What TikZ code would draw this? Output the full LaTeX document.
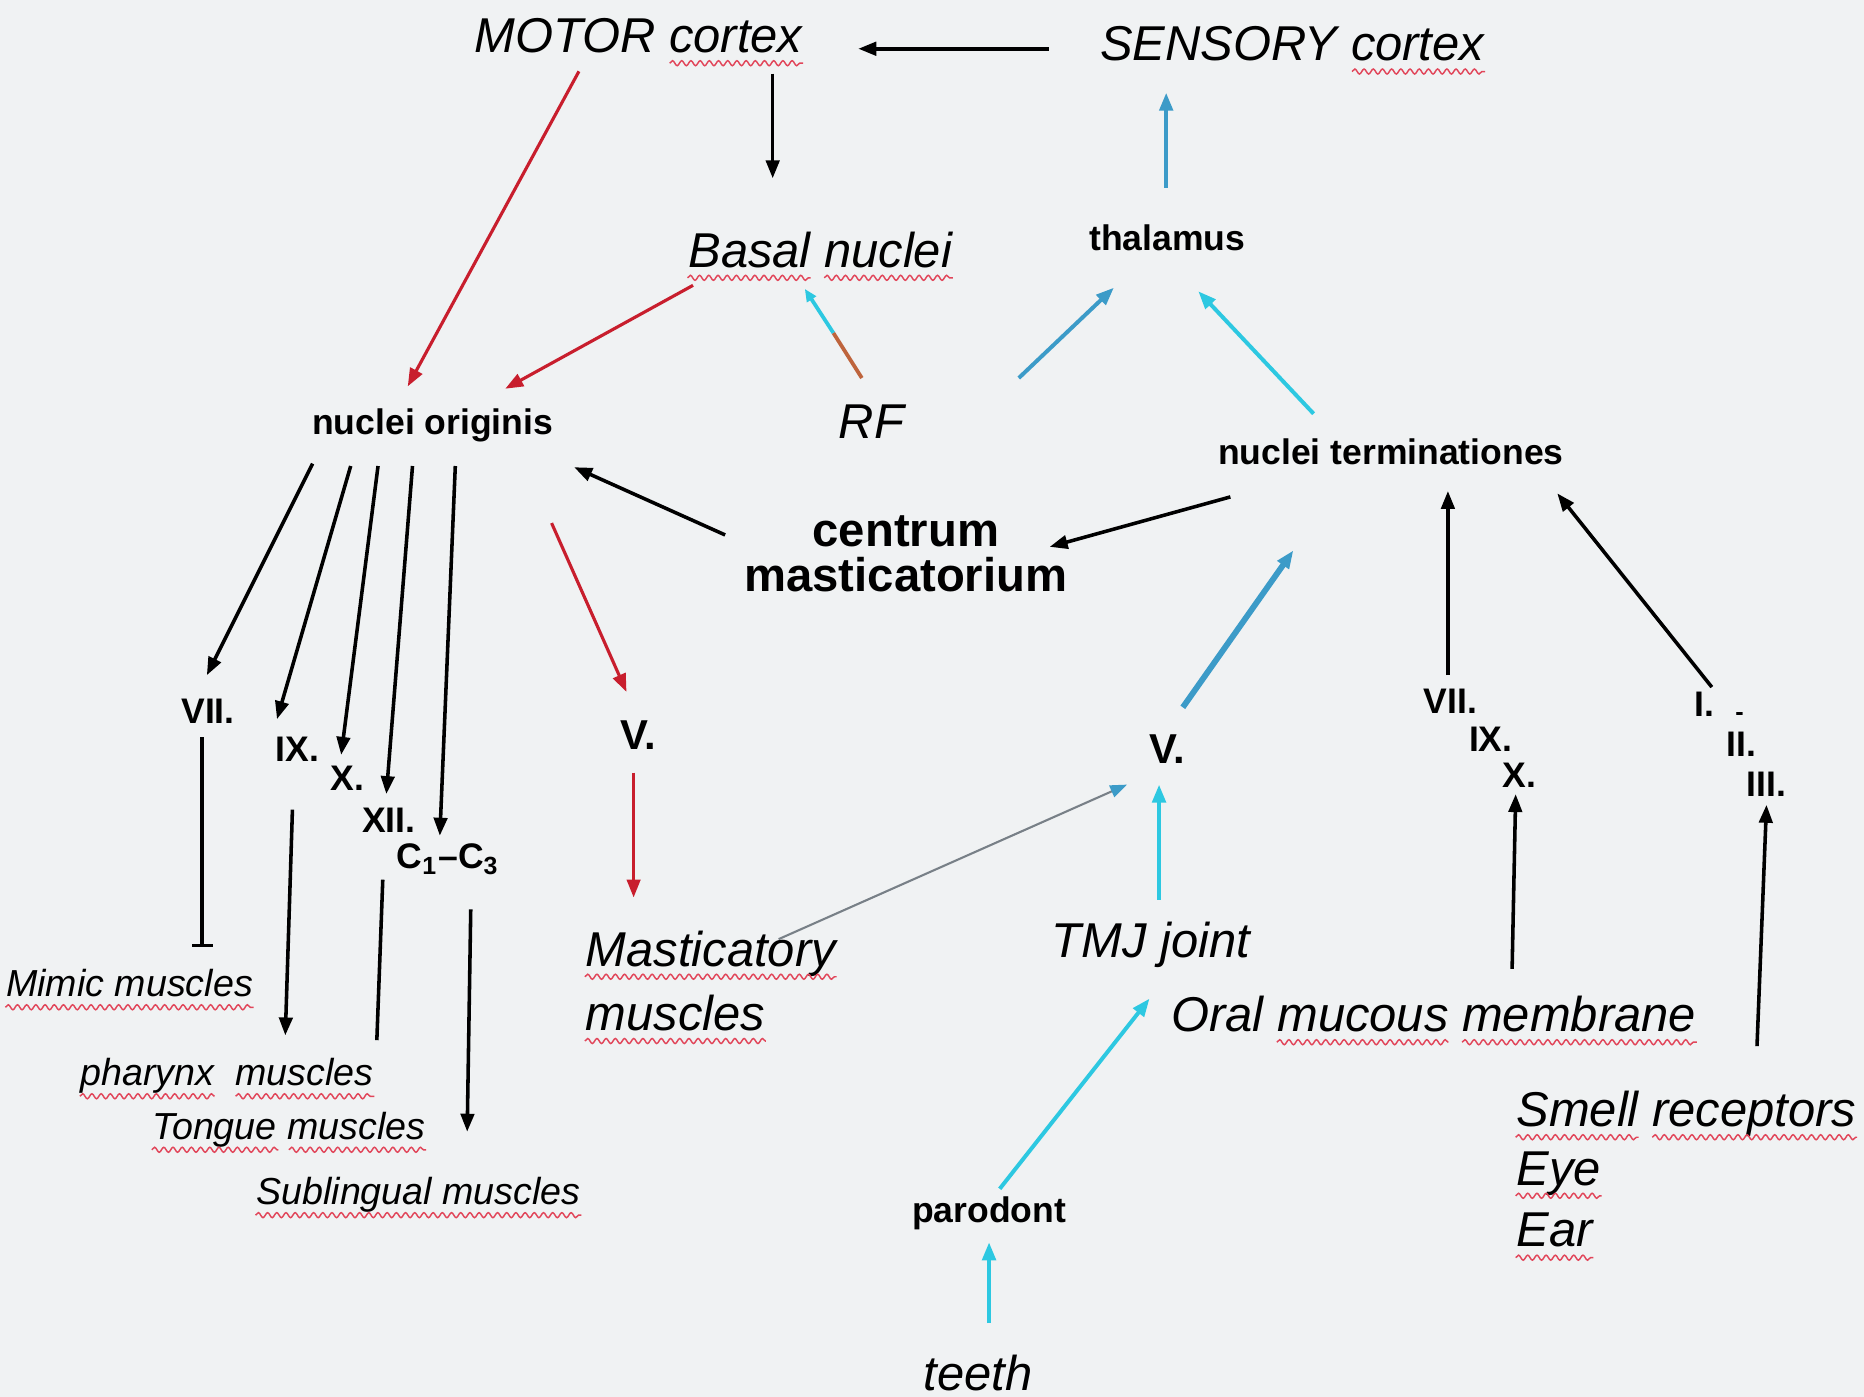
\documentclass[tikz,border=0pt]{standalone}
\usepackage{fontspec}
\setmainfont{Liberation Sans}
\usetikzlibrary{arrows.meta,calc,decorations.pathmorphing}
\definecolor{squigred}{RGB}{225,70,90}
\definecolor{motred}{RGB}{200,30,45}
\definecolor{steel}{RGB}{60,155,200}
\definecolor{cyanline}{RGB}{45,200,225}
\definecolor{rfbrown}{RGB}{190,100,60}
\definecolor{thinline}{RGB}{120,128,135}
\definecolor{pagebg}{RGB}{240,242,243}
\newcommand{\wavy}[3]{\draw[squig] ($(#1.base west)!#2!(#1.base east)+(0,9)$) -- ($(#1.base west)!#3!(#1.base east)+(0,9)$);}

\begin{document}
\begin{tikzpicture}[x=0.01cm,y=-0.01cm,>={Triangle[length=4.3pt,width=3.2pt]},
 lab/.style={inner sep=0pt,font=\fontsize{11.7}{14.2}\selectfont\itshape},
 mus/.style={inner sep=0pt,font=\fontsize{9}{11}\selectfont\itshape},
 nuc/.style={inner sep=0pt,font=\fontsize{8.5}{10}\selectfont\bfseries},
 num/.style={inner sep=0pt,font=\fontsize{8.5}{10}\selectfont\bfseries},
 big/.style={inner sep=0pt,font=\fontsize{10}{12}\selectfont\bfseries},
 squig/.style={draw=squigred,line width=0.35pt,decorate,decoration={snake,amplitude=0.6pt,segment length=2.2pt}},
 arrow/.style={->,line width=0.85pt},
 motor/.style={->,line width=0.75pt,draw=motred},
 sens/.style={->,line width=0.95pt,draw=steel},
 sensc/.style={->,line width=0.95pt,draw=cyanline}]
\fill[pagebg] (0,0) rectangle (1568,1175);
\useasboundingbox (0,0) rectangle (1568,1175);
\node[lab] (mc) at (537,30) {MOTOR cortex};
\node[lab] (sc) at (1087,37) {SENSORY cortex};
\node[lab] (bn) at (690,210) {Basal nuclei};
\node[lab] (rf) at (733,355) {RF};
\node[nuc] (no) at (364,358) {nuclei originis};
\node[nuc] (th) at (982,200) {thalamus};
\node[nuc] (nt) at (1170,380) {nuclei terminationes};
\node[inner sep=0pt,align=center,font=\fontsize{11.3}{10.8}\selectfont\bfseries] (cm) at (762,466) {centrum\\masticatorium};
\node[big] (vl) at (537,618) {V.};
\node[lab,anchor=west] (mm) at (492,802) {Masticatory};
\node[lab,anchor=west] (mm2) at (492,852) {muscles};
\node[big] (vr) at (982,630) {V.};
\node[lab] (tmj) at (968,795) {TMJ joint};
\node[lab] (om) at (1206,853) {Oral mucous membrane};
\node[nuc] (pa) at (832,1021) {parodont};
\node[lab] (te) at (823,1155) {teeth};
\node[num] (r7) at (1220,590) {VII.};
\node[num] (r9) at (1254,622) {IX.};
\node[num] (r10) at (1278,652) {X.};
\node[num,anchor=west] (r1) at (1425,594) {I.\hspace{5pt}\raisebox{-1pt}{\fontsize{6}{6}\selectfont -}};
\node[num] (r2) at (1465,626) {II.};
\node[num] (r3) at (1486,660) {III.};
\node[lab,anchor=west] (sr) at (1275,937) {Smell receptors};
\node[lab,anchor=west] (eye) at (1275,987) {Eye};
\node[lab,anchor=west] (ear) at (1275,1035) {Ear};
\node[num] (l7) at (175,598) {VII.};
\node[num] (l9) at (250,630) {IX.};
\node[num] (l10) at (292,655) {X.};
\node[num] (l12) at (327,690) {XII.};
\node[num] (lc) at (377,723) {C\textsubscript{1}--C\textsubscript{3}};
\node[mus] (mim) at (109,827) {Mimic muscles};
\node[mus] (ph) at (191,905) {pharynx\ \ muscles};
\node[mus] (to) at (243,950) {Tongue muscles};
\node[mus] (sub) at (352,1005) {Sublingual muscles};
\wavy{mc}{0.595}{1}
\wavy{sc}{0.655}{1}
\wavy{bn}{0}{0.464}
\wavy{bn}{0.515}{1}
\wavy{mm}{0}{1}
\wavy{mm2}{0}{1}
\wavy{om}{0.202}{0.528}
\wavy{om}{0.554}{1}
\wavy{te}{0}{1}
\wavy{sr}{0}{0.36}
\wavy{sr}{0.40}{1}
\wavy{eye}{0}{1}
\wavy{ear}{0}{1}
\wavy{mim}{0}{1}
\wavy{ph}{0}{0.457}
\wavy{ph}{0.529}{1}
\wavy{to}{0}{0.462}
\wavy{to}{0.5}{1}
\wavy{sub}{0}{1}
\coordinate (fb) at (857,318);
\coordinate (rfm) at ($(rf)+(-32,-75)$);
\draw[arrow] ($(sc)+(-205,4)$) -- ($(mc)+(185,11)$);
\draw[arrow] ($(mc)+(113,32)$) -- ($(bn)+(-40,-60)$);
\draw[motor] ($(mc)+(-50,30)$) -- ($(no)+(-21,-33)$);
\draw[motor] ($(bn)+(-107,30)$) -- ($(no)+(61,-31)$);
\draw[line width=0.9pt,draw=rfbrown] ($(rf)+(-8,-37)$) -- (rfm);
\draw[line width=0.9pt,draw=cyanline,-{Triangle[length=3pt,width=2.5pt]}] (rfm) -- ($(bn)+(-13,33)$);
\draw[sens] ($(th)+(-1,-42)$) -- ($(sc)+(-106,41)$);
\draw[sens] (fb) -- ($(th)+(-45,42)$);
\draw[sensc] ($(nt)+(-65,-32)$) -- ($(th)+(26,45)$);
\draw[arrow] ($(cm)+(-152,-16)$) -- ($(no)+(119,35)$);
\draw[arrow] ($(nt)+(-135,38)$) -- ($(cm)+(121,-6)$);
\draw[motor] ($(no)+(100,82)$) -- ($(vl)+(-10,-36)$);
\draw[motor] ($(vl)+(-4,32)$) -- ($(mm.west)+(41,-47)$);
\draw[line width=0.5pt,draw=thinline,-{Triangle[length=4pt,width=3pt,color=steel]}] ($(mm.west)+(163,-12)$) -- ($(vr)+(-34,30)$);
\draw[sens,line width=1.4pt] ($(vr)+(13,-35)$) -- ($(nt)+(-82,83)$);
\draw[sensc] ($(tmj)+(7,-38)$) -- ($(vr)+(-7,30)$);
\draw[sensc] ($(pa)+(9,-21)$) -- ($(tmj)+(-1,45)$);
\draw[sensc] ($(te)+(9,-42)$) -- ($(pa)+(0,24)$);
\draw[arrow] ($(r7)+(-2,-22)$) -- ($(nt)+(48,33)$);
\draw[arrow] ($(om)+(66,-38)$) -- ($(r10)+(-3,16)$);
\draw[arrow] ($(r1.west)+(15,-16)$) -- ($(nt)+(140,35)$);
\draw[arrow] ($(sr.west)+(203,-57)$) -- ($(r3)+(0,17)$);
\draw[arrow] ($(no)+(-101,32)$) -- ($(l7)+(-1,-30)$);
\draw[arrow] ($(no)+(-69,34)$) -- ($(l9)+(-17,-25)$);
\draw[arrow] ($(no)+(-46,34)$) -- ($(l10)+(-5,-20)$);
\draw[arrow] ($(no)+(-17,34)$) -- ($(l12)+(-2,-22)$);
\draw[arrow] ($(no)+(19,34)$) -- ($(lc)+(-7,-20)$);
\draw[line width=0.85pt,-{Bar[width=5pt]}] ($(l7)+(-5,22)$) -- ($(mim)+(61,-30)$);
\draw[arrow] ($(l9)+(-4,51)$) -- ($(ph)+(49,-34)$);
\draw[line width=0.85pt] ($(l12)+(-5,50)$) -- ($(to)+(74,-75)$);
\draw[arrow] ($(lc)+(19,42)$) -- ($(sub)+(41,-53)$);
\end{tikzpicture}
\end{document}
